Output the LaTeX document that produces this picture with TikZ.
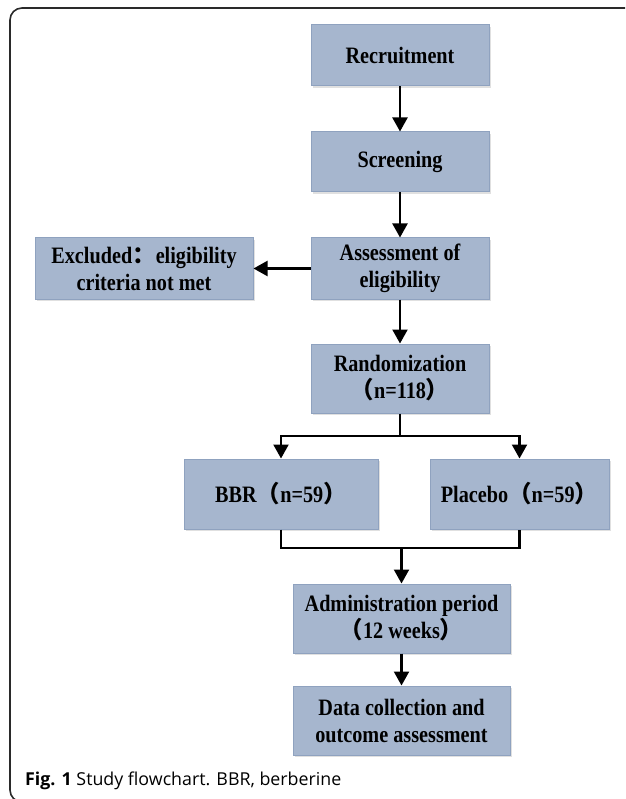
\documentclass[tikz,border=0pt]{standalone}
\usepackage{fontspec}
\setmainfont{Liberation Serif}[FakeStretch=0.86]
\newfontfamily\capfont{Open Sans}
\newfontfamily\cjk{Noto Sans CJK SC}
\usetikzlibrary{arrows.meta,shadows}
\newcommand{\fwl}{{\cjk （}}
\newcommand{\fwr}{{\cjk ）}}
\newcommand{\fwc}{{\cjk ：}}
\definecolor{boxfill}{HTML}{A6B6CE}
\definecolor{boxline}{HTML}{8FA2BF}
\definecolor{framecol}{HTML}{2A2A2A}
\tikzset{
  flowbox/.style={draw=boxline, line width=1pt, fill=boxfill, align=center,
    inner sep=0pt, font=\fontsize{23.5}{27}\selectfont\bfseries,
    drop shadow={shadow xshift=1.5pt, shadow yshift=-2pt, opacity=0.12, fill=black}},
  flowarrow/.style={line width=2.2pt, -{Triangle[width=15pt,length=14pt]}},
  flowline/.style={line width=2.2pt}
}
\begin{document}
\begin{tikzpicture}[x=1pt,y=-1pt]
\useasboundingbox (0,0) rectangle (625,799);
\begin{scope}
\clip (0,0) rectangle (625,799);
\draw[framecol, line width=1.6pt, rounded corners=12pt] (10,8) rectangle (645,802);
\end{scope}
\node[flowbox, minimum width=178pt, minimum height=61pt] (rec) at (400,55.5) {Recruitment};
\node[flowbox, minimum width=178pt, minimum height=60pt] (scr) at (400,162) {Screening};
\node[flowbox, minimum width=178pt, minimum height=61pt] (ass) at (400,268.5) {Assessment of\\eligibility};
\node[flowbox, minimum width=218pt, minimum height=61pt] (exc) at (144,268.5) {Excluded\fwc eligibility\\criteria not met};
\node[flowbox, minimum width=178pt, minimum height=69pt] (ran) at (400,378.5) {Randomization\\\fwl n=118\fwr};
\node[flowbox, minimum width=194pt, minimum height=70pt] (bbr) at (281,494) {BBR\fwl n=59\fwr};
\node[flowbox, minimum width=179pt, minimum height=70pt] (pla) at (519.5,494) {Placebo\fwl n=59\fwr};
\node[flowbox, minimum width=217pt, minimum height=69pt] (adm) at (401.5,618.5) {Administration period\\\fwl 12 weeks\fwr};
\node[flowbox, minimum width=217pt, minimum height=69pt] (dat) at (401.5,720.5) {Data collection and\\outcome assessment};
\coordinate (split) at (400,436);
\coordinate (merge) at (401.5,548);
\draw[flowarrow] (rec) -- (scr);
\draw[flowarrow] (scr) -- (ass);
\draw[flowarrow] (ass) -- (exc);
\draw[flowarrow] (ass) -- (ran);
\draw[flowline] (ran.south) -- (split);
\draw[flowarrow] (split) -| (bbr.north);
\draw[flowarrow] (split) -| (pla.north);
\draw[flowline] (bbr.south) |- (merge) -| (pla.south);
\draw[flowarrow] (merge) -- (adm.north);
\draw[flowarrow] (adm) -- (dat);
\node[anchor=west, inner sep=0pt, font=\capfont\fontsize{17.8}{21}\selectfont] (cap) at (25,781) {\textbf{Fig. 1} Study flowchart. BBR, berberine};
\end{tikzpicture}
\end{document}
